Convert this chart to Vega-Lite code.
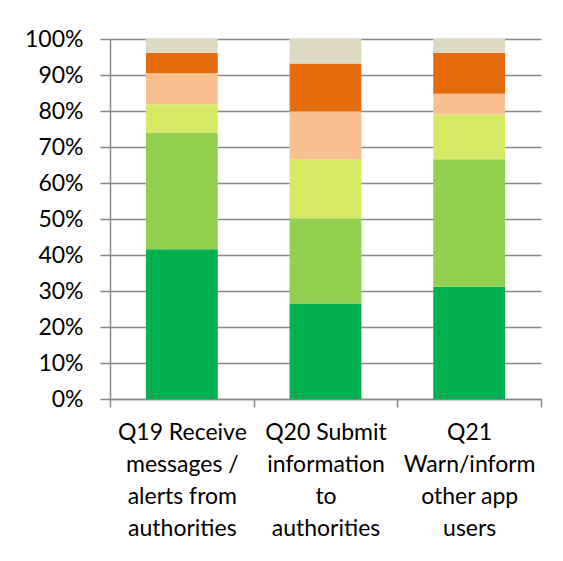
{
  "$schema": "https://vega.github.io/schema/vega-lite/v6.json",
  "width": 431,
  "height": 360,
  "autosize": {"type": "none"},
  "padding": {"left": 110, "top": 39, "right": 22, "bottom": 162},
  "background": "white",
  "config": {
    "view": {"stroke": null},
    "font": "Lato",
    "axis": {
      "labelFont": "Lato",
      "labelColor": "#000000",
      "labelFontSize": 23,
      "domain": true,
      "ticks": true,
      "domainColor": "#888888",
      "domainWidth": 1.5,
      "tickColor": "#888888",
      "tickWidth": 1.5,
      "gridColor": "#888888",
      "gridWidth": 1.5,
      "title": null
    }
  },
  "data": {
    "values": [
      {"q": "Q19 Receive|messages /|alerts from|authorities", "cat": "A", "o": 1, "v": 41.6},
      {"q": "Q19 Receive|messages /|alerts from|authorities", "cat": "B", "o": 2, "v": 32.4},
      {"q": "Q19 Receive|messages /|alerts from|authorities", "cat": "C", "o": 3, "v": 7.9},
      {"q": "Q19 Receive|messages /|alerts from|authorities", "cat": "D", "o": 4, "v": 8.6},
      {"q": "Q19 Receive|messages /|alerts from|authorities", "cat": "E", "o": 5, "v": 5.6},
      {"q": "Q19 Receive|messages /|alerts from|authorities", "cat": "F", "o": 6, "v": 3.9},
      {"q": "Q20 Submit|information|to|authorities", "cat": "A", "o": 1, "v": 26.5},
      {"q": "Q20 Submit|information|to|authorities", "cat": "B", "o": 2, "v": 23.7},
      {"q": "Q20 Submit|information|to|authorities", "cat": "C", "o": 3, "v": 16.4},
      {"q": "Q20 Submit|information|to|authorities", "cat": "D", "o": 4, "v": 13.3},
      {"q": "Q20 Submit|information|to|authorities", "cat": "E", "o": 5, "v": 13.3},
      {"q": "Q20 Submit|information|to|authorities", "cat": "F", "o": 6, "v": 6.8},
      {"q": "Q21|Warn/inform|other app|users", "cat": "A", "o": 1, "v": 31.2},
      {"q": "Q21|Warn/inform|other app|users", "cat": "B", "o": 2, "v": 35.4},
      {"q": "Q21|Warn/inform|other app|users", "cat": "C", "o": 3, "v": 12.4},
      {"q": "Q21|Warn/inform|other app|users", "cat": "D", "o": 4, "v": 5.8},
      {"q": "Q21|Warn/inform|other app|users", "cat": "E", "o": 5, "v": 11.3},
      {"q": "Q21|Warn/inform|other app|users", "cat": "F", "o": 6, "v": 3.9}
    ]
  },
  "mark": {"type": "bar", "width": {"band": 0.5}},
  "encoding": {
    "x": {
      "field": "q",
      "type": "nominal",
      "sort": null,
      "scale": {"paddingInner": 0, "paddingOuter": 0},
      "axis": {
        "labelAngle": 0,
        "labelExpr": "split(datum.label, '|')",
        "labelLineHeight": 32,
        "labelPadding": 14,
        "labelBaseline": "top",
        "tickBand": "extent",
        "tickSize": 8
      }
    },
    "y": {
      "field": "v",
      "type": "quantitative",
      "stack": "normalize",
      "scale": {"domain": [0, 1], "nice": false},
      "axis": {
        "format": ".0%",
        "values": [0, 0.1, 0.2, 0.3, 0.4, 0.5, 0.6, 0.7, 0.8, 0.9, 1],
        "labelOverlap": false,
        "grid": true,
        "tickSize": 10,
        "labelPadding": 17
      }
    },
    "color": {
      "field": "cat",
      "type": "nominal",
      "scale": {
        "domain": ["A", "B", "C", "D", "E", "F"],
        "range": ["#00B050", "#92D050", "#D7E964", "#FAC090", "#E46C0A", "#DDD9C3"]
      },
      "legend": null
    },
    "order": {"field": "o", "type": "quantitative"}
  }
}
